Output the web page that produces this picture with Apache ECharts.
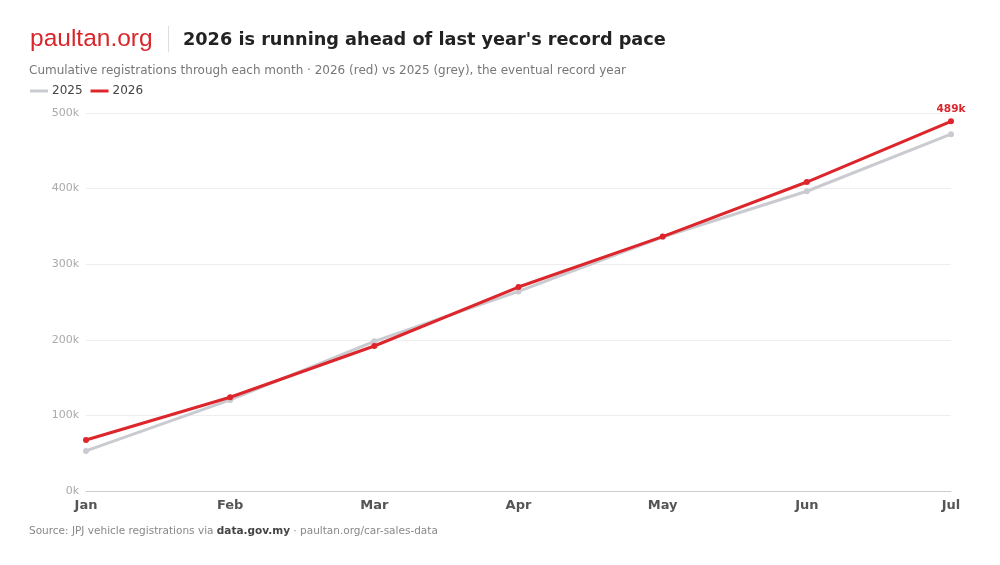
<!DOCTYPE html>
<html><head><meta charset="utf-8">
<script src="https://cdn.jsdelivr.net/npm/echarts@6/dist/echarts.min.js"></script>
<style>html,body{margin:0;padding:0;background:#fff}#c{width:1000px;height:565px}</style>
</head><body><div id="c"></div>
<script>
const months = ['Jan','Feb','Mar','Apr','May','Jun','Jul'];
const y2025 = [53000, 120500, 198000, 264000, 336000, 396500, 472000];
const y2026 = [67500, 124000, 191800, 269800, 336500, 408700, 489000];
const yTicks = [0, 100000, 200000, 300000, 400000, 500000];

const chart = echarts.init(document.getElementById('c'));
const F = 'DejaVu Sans';
chart.setOption({
  animation: false,
  backgroundColor: '#fff',
  title: [
    {text: 'paultan.org', left: 30, top: 27, padding: 0, textStyle: {fontFamily: 'Liberation Sans', fontSize: 24.5, fontWeight: 'normal', color: '#d8262b'}},
    {text: "2026 is running ahead of last year's record pace", left: 183, top: 31, padding: 0, textStyle: {fontFamily: F, fontSize: 17.7, fontWeight: 'bold', color: '#222'}},
    {text: 'Cumulative registrations through each month · 2026 (red) vs 2025 (grey), the eventual record year', left: 29, top: 65, padding: 0, textStyle: {fontFamily: F, fontSize: 12, fontWeight: 'normal', color: '#777'}},
    {text: 'Source: JPJ vehicle registrations via {b|data.gov.my} · paultan.org/car-sales-data', left: 29, top: 526, padding: 0, textStyle: {fontFamily: F, fontSize: 10.5, fontWeight: 'normal', color: '#888', rich: {b: {fontFamily: F, fontSize: 10.5, fontWeight: 'bold', color: '#444'}}}}
  ],
  graphic: [
    {type: 'line', shape: {x1: 168.5, y1: 26, x2: 168.5, y2: 52}, style: {stroke: '#ddd', lineWidth: 1}}
  ],
  legend: {
    left: 30, top: 85, padding: 0, itemWidth: 18, itemHeight: 3, itemGap: 8,
    icon: 'rect',
    textStyle: {fontFamily: F, fontSize: 12, color: '#444', padding: [0, 0, 0, -1]},
    data: ['2025', '2026']
  },
  grid: {left: 86, right: 49, top: 113, bottom: 74, containLabel: false},
  xAxis: {
    type: 'category', data: months, boundaryGap: false,
    axisLine: {lineStyle: {color: '#ccc'}}, axisTick: {show: false},
    axisLabel: {fontFamily: F, fontSize: 13, fontWeight: 'bold', color: '#555', margin: 8}
  },
  yAxis: {
    type: 'value', min: 0, max: 500000, interval: 100000,
    axisLine: {show: false}, axisTick: {show: false},
    splitLine: {lineStyle: {color: '#eee'}},
    axisLabel: {fontFamily: F, fontSize: 11, color: '#aaa', margin: 7, formatter: v => (v/1000) + 'k'}
  },
  series: [
    {name: '2025', type: 'line', data: y2025, color: '#c9cbd1', lineStyle: {width: 3}, symbol: 'circle', symbolSize: 6, z: 2},
    {name: '2026', type: 'line', data: y2026, color: '#dc262c', lineStyle: {width: 3}, symbol: 'circle', symbolSize: 6, z: 3,
     label: {show: true, position: 'top', distance: 4, fontFamily: F, fontSize: 10.5, fontWeight: 'bold', color: '#dc262c',
       formatter: p => p.dataIndex === months.length - 1 ? Math.round(p.value/1000) + 'k' : ''}}
  ]
});
</script></body></html>
